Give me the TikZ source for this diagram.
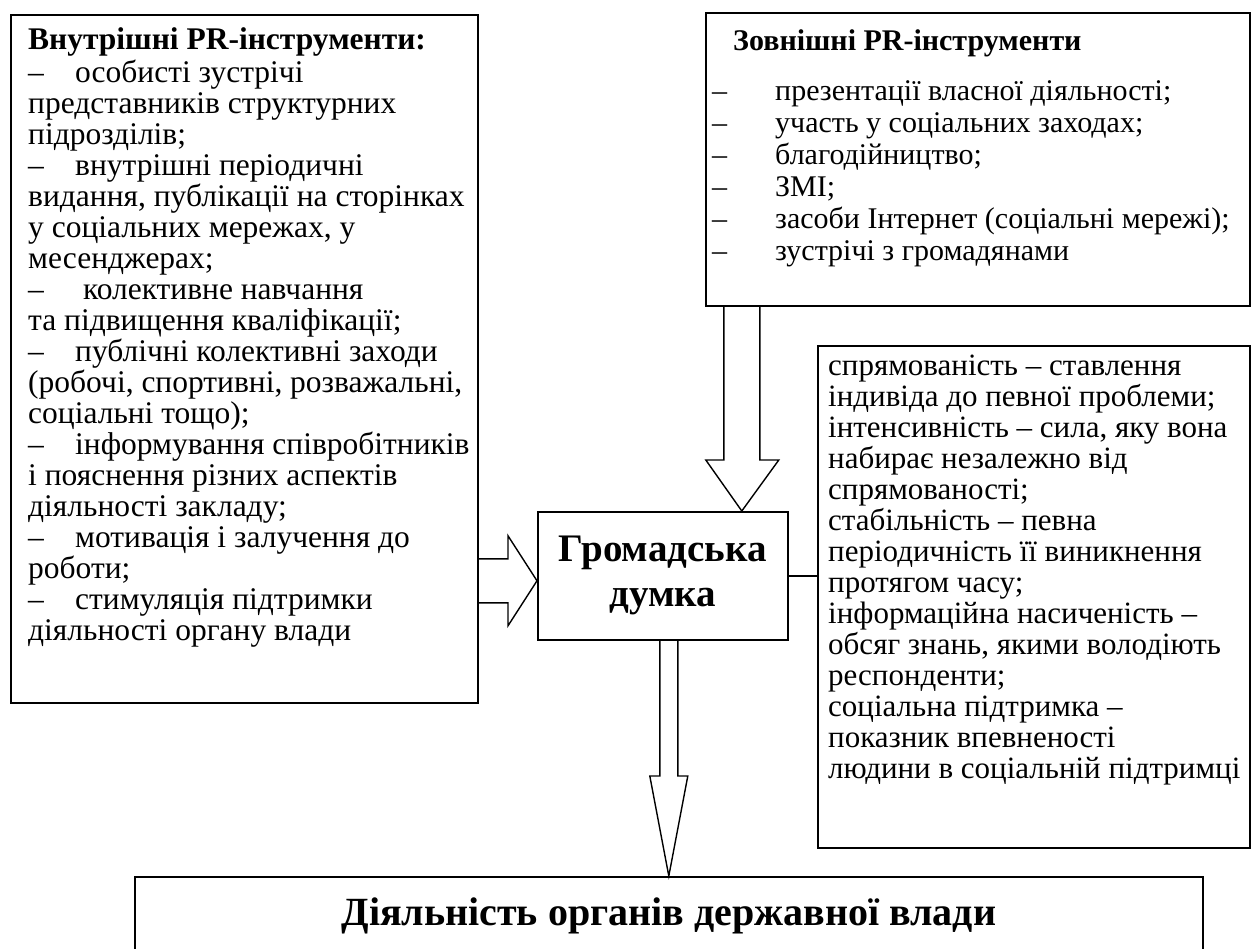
\documentclass[tikz,border=0pt]{standalone}
\usepackage{fontspec}
\setmainfont{Liberation Serif}
\usetikzlibrary{calc}
\newcommand{\dL}{\makebox[47pt][l]{–}}
\newcommand{\dE}{\makebox[63pt][l]{–}}
\newcommand{\fst}{\rule{0pt}{24pt}}
\begin{document}
\begin{tikzpicture}[x=1pt,y=-1pt,
  box/.style={draw,line width=1.6pt,inner sep=0pt,anchor=north west},
  blk/.style={draw,line width=1.4pt,line join=miter},
  txt/.style={anchor=north west,inner sep=0pt,align=left},
  big/.style={font=\bfseries\fontsize{39}{45}\selectfont}]
\useasboundingbox (0,0) rectangle (1255,949);
% boxes
\node[box,minimum width=467pt,minimum height=688pt] (L) at (10,14) {};
\node[box,minimum width=544pt,minimum height=293pt] (E) at (705,12) {};
\node[box,minimum width=432pt,minimum height=502pt] (A) at (817,345) {};
\node[box,big,align=center,minimum width=250pt,minimum height=128pt] (C) at (537,511) {Громадська\\думка};
\node[box,font=\bfseries\fontsize{40}{45}\selectfont,minimum width=1068pt,minimum height=78pt] (B) at (134,876) {Діяльність органів державної влади};
% texts
\node[txt,font=\fontsize{31.5}{31}\selectfont] (Lt) at (28,25) {\fst\textbf{Внутрішні PR-інструменти:}\\[2pt]
\dL особисті зустрічі\\
представників структурних\\
підрозділів;\\
\dL внутрішні періодичні\\
видання, публікації на сторінках\\
у соціальних мережах, у\\
месенджерах;\\
\dL\ колективне навчання\\
та підвищення кваліфікації;\\
\dL публічні колективні заходи\\
(робочі, спортивні, розважальні,\\
соціальні тощо);\\
\dL інформування співробітників\\
і пояснення різних аспектів\\
діяльності закладу;\\
\dL мотивація і залучення до\\
роботи;\\
\dL стимуляція підтримки\\
діяльності органу влади};
\node[txt,font=\fontsize{30}{32}\selectfont] (Et) at (712,26) {\fst\hspace{21pt}\textbf{Зовнішні PR-інструменти}\\[18pt]
\dE презентації власної діяльності;\\
\dE участь у соціальних заходах;\\
\dE благодійництво;\\
\dE ЗМІ;\\
\dE засоби Інтернет (соціальні мережі);\\
\dE зустрічі з громадянами};
\node[txt,font=\fontsize{31}{31}\selectfont] (At) at (828,351) {\fst спрямованість – ставлення\\
індивіда до певної проблеми;\\
інтенсивність – сила, яку вона\\
набирає незалежно від\\
спрямованості;\\
стабільність – певна\\
періодичність її виникнення\\
протягом часу;\\
інформаційна насиченість –\\
обсяг знань, якими володіють\\
респонденти;\\
соціальна підтримка –\\
показник впевненості\\
людини в соціальній підтримці};
% connector
\draw[line width=1.4pt] (C.east) -- (A.west |- C.east);
% block arrows
\coordinate (tipL) at ($(C.west)+(0,5)$);
\draw[blk] ($(L.east|-tipL)+(0,-22)$) -- ($(tipL)+(-29,-22)$) -- ($(tipL)+(-29,-45)$) -- (tipL)
  -- ($(tipL)+(-29,45)$) -- ($(tipL)+(-29,22)$) -- ($(L.east|-tipL)+(0,22)$);
\coordinate (tipT) at ($(C.north)+(79,0)$);
\draw[blk] ($(tipT|-E.south)+(-18,0)$) -- ($(tipT)+(-18,-51)$) -- ($(tipT)+(-36,-51)$) -- (tipT)
  -- ($(tipT)+(37,-51)$) -- ($(tipT)+(18,-51)$) -- ($(tipT|-E.south)+(18,0)$);
\draw[blk] ($(B.north|-C.south)+(-9,0)$) -- ($(B.north)+(-9,-100)$) -- ($(B.north)+(-19,-100)$) -- (B.north)
  -- ($(B.north)+(19,-100)$) -- ($(B.north)+(9,-100)$) -- ($(B.north|-C.south)+(9,0)$);
\end{tikzpicture}
\end{document}
